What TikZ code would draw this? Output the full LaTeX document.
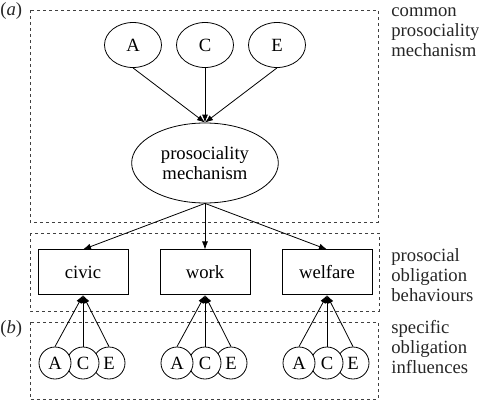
\documentclass[tikz,border=0pt]{standalone}
\usepackage{fontspec}
\setmainfont{Liberation Serif}
\usepackage{tikz}
\usetikzlibrary{shapes.geometric,arrows.meta}

\begin{document}
\begin{tikzpicture}[x=0.75pt,y=-0.75pt,node distance=54pt,line width=0.6pt,
  every node/.style={font=\fontsize{14}{15}\selectfont},
  trait/.style={ellipse,draw,minimum width=42.75pt,minimum height=33.75pt,inner sep=0pt},
  mech/.style={ellipse,draw,minimum width=110pt,minimum height=60pt,inner sep=0pt,align=center},
  behav/.style={rectangle,draw,minimum width=67.5pt,minimum height=33.75pt},
  infl/.style={circle,draw,fill=white,minimum size=24pt,inner sep=0pt},
  frame/.style={draw=black!75,dash pattern=on 2.2pt off 2.3pt},
  side/.style={align=left,anchor=base west,inner sep=0pt,text=black!85},
  >={Latex[length=6pt,width=4.5pt]}]
\useasboundingbox (0,0) rectangle (479,400);

% dashed frames
\draw[frame] (30,10) rectangle (378,222);
\draw[frame] (30,233) rectangle (379,311);
\draw[frame] (30,322) rectangle (378,399);

% base of a multi-line node is its last line
\node(La) [side] at (0,15) {(\textit{a})};
\node(Lb) [side] at (0,333) {(\textit{b})};
\node(S1) [side] at (391,56.5) {common\\prosociality\\mechanism};
\node(S2) [side] at (391,301) {prosocial\\obligation\\behaviours};
\node(S3) [side] at (391,373) {specific\\obligation\\influences};

\node(C1) [trait] at (205,45) {C};
\node(A1) [trait,left of=C1] {A};
\node(E1) [trait,right of=C1] {E};
\node(M1) [mech,below of=C1,node distance=88.5pt] {prosociality\\mechanism};
\node(B2) [behav,below of=M1,node distance=82pt] {work};
\node(B1) [behav,left of=B2,node distance=91.5pt] {civic};
\node(B3) [behav,right of=B2,node distance=91.5pt] {welfare};

\node(e1) [infl,below of=B1,node distance=68pt,xshift=19.5pt] {E};
\node(c1) [infl,left of=e1,node distance=19.5pt] {C};
\node(a1) [infl,left of=c1,node distance=21pt] {A};
\node(e2) [infl,below of=B2,node distance=68pt,xshift=19.5pt] {E};
\node(c2) [infl,left of=e2,node distance=19.5pt] {C};
\node(a2) [infl,left of=c2,node distance=21pt] {A};
\node(e3) [infl,below of=B3,node distance=68pt,xshift=19.5pt] {E};
\node(c3) [infl,left of=e3,node distance=19.5pt] {C};
\node(a3) [infl,left of=c3,node distance=21pt] {A};

\draw[->] (A1.south) to (M1.north);
\draw[->] (C1.south) to (M1.north);
\draw[->] (E1.south) to (M1.north);
\draw[->] (M1.south) to (B1.north);
\draw[->] (M1.south) to (B2.north);
\draw[->] (M1.south) to (B3.north);
\draw[->] (a1.north) to (B1.south);
\draw[->] (c1.north) to (B1.south);
\draw[->] (e1.north) to (B1.south);
\draw[->] (a2.north) to (B2.south);
\draw[->] (c2.north) to (B2.south);
\draw[->] (e2.north) to (B2.south);
\draw[->] (a3.north) to (B3.south);
\draw[->] (c3.north) to (B3.south);
\draw[->] (e3.north) to (B3.south);
\end{tikzpicture}
\end{document}
